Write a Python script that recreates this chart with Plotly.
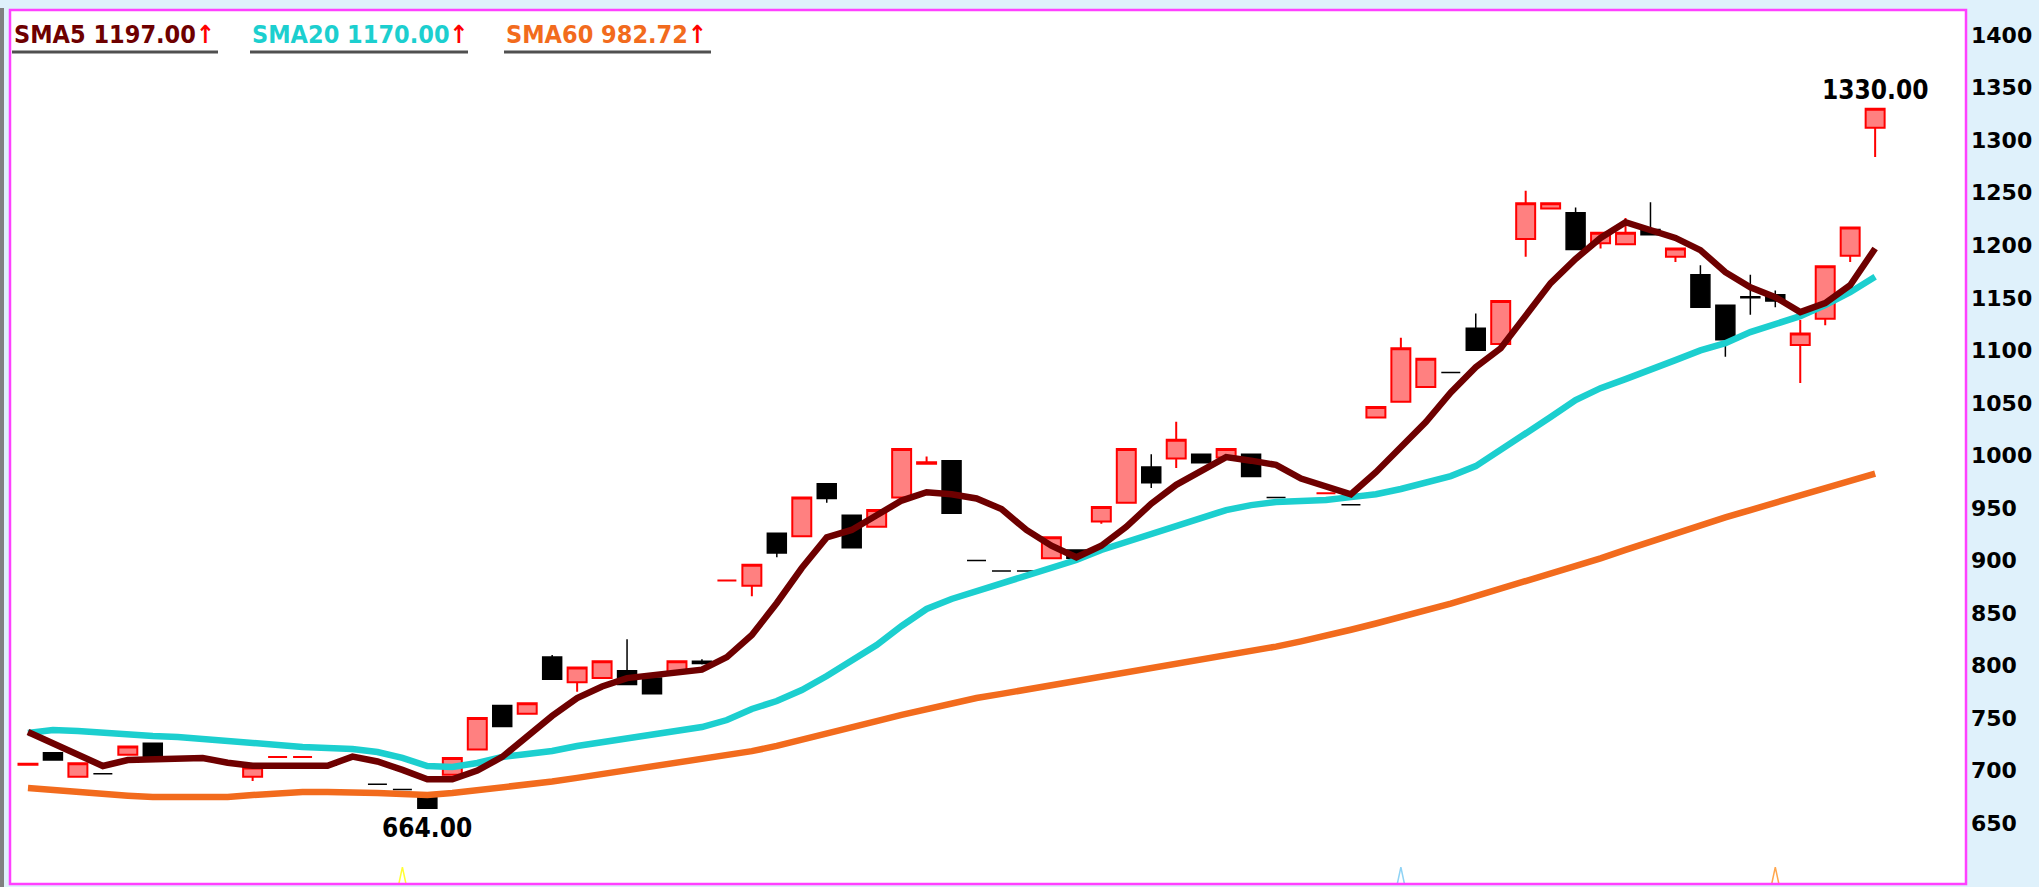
import plotly.graph_objects as go

# ---------------- data ----------------
idx = list(range(75))

opens = [705.5, 717, 694, 697, 715, 726, 712, 711, 708, 694,
         713, 713, 705, 712, 687, 682, 674, 696, 720, 762,
         754, 808, 784, 788, 795, 788, 793, 804, 881, 876,
         926, 923, 973, 943, 932, 960, 992, 995, 900, 890,
         890, 902, 910, 937, 955, 989, 997, 1001, 998, 1001,
         960, 957, 964, 953, 1036, 1051, 1065, 1079, 1121, 1106,
         1206, 1235, 1231, 1202, 1201, 1215, 1189, 1172, 1143, 1151,
         1153, 1105, 1130, 1190, 1312]
highs = [706.5, 717, 707, 697, 723, 726, 712, 711, 708, 703,
         713, 713, 705, 712, 687, 682, 674, 712, 750, 762,
         764, 810, 798, 804, 825, 788, 804, 806, 881, 896,
         926, 960, 973, 943, 948, 1006, 999, 995, 900, 890,
         890, 922, 910, 951, 1006, 1001, 1032, 1001, 1006, 1001,
         960, 957, 964, 953, 1046, 1112, 1092, 1079, 1135, 1147,
         1252, 1240, 1236, 1212, 1226, 1241, 1197, 1181, 1143, 1172,
         1157, 1129, 1180, 1217, 1330]
lows = [705.5, 710, 694, 697, 715, 712, 712, 711, 708, 690,
        713, 713, 705, 712, 687, 682, 664, 696, 720, 742,
        754, 787, 775, 788, 782, 773, 793, 801, 881, 866,
        903, 923, 955, 912, 932, 960, 992, 945, 900, 890,
        890, 902, 902, 935, 955, 969, 988, 993, 998, 980,
        960, 957, 964, 953, 1036, 1051, 1065, 1079, 1100, 1106,
        1189, 1235, 1196, 1197, 1201, 1210, 1184, 1141, 1094, 1134,
        1141, 1069, 1124, 1184, 1284]
closes = [706.5, 710, 707, 697, 723, 712, 712, 711, 708, 703,
          713, 713, 705, 712, 687, 682, 664, 712, 750, 742,
          764, 787, 798, 804, 782, 773, 804, 802, 881, 896,
          907, 960, 959, 912, 948, 1006, 993.5, 945, 900, 890,
          890, 922, 902, 951, 1006, 974, 1015, 993, 1006, 980,
          960, 957, 964, 953, 1046, 1102, 1092, 1079, 1100, 1147,
          1240, 1240, 1196, 1212, 1212, 1210, 1197, 1141, 1110, 1150,
          1147, 1116, 1180, 1217, 1330]

sma5 = [736.7, 726, 714.8, 704.3, 710, 710.7, 712, 712, 707.5, 704.6,
        704.6, 704.6, 704.6, 713.3, 708.6, 700.6, 691.7, 691.7, 700, 713,
        733, 752, 769, 780, 788, 791, 794, 796, 808, 829,
        859.5, 892.8, 922, 929, 943, 957, 965, 963, 959, 949,
        929, 914, 903, 914, 932, 954, 972, 986, 998.4, 995,
        991, 978, 970, 963, 984, 1007, 1031.7, 1060, 1084, 1102,
        1133.5, 1164, 1187, 1207, 1222, 1214.4, 1207, 1195.4, 1174.4, 1160,
        1150.7, 1136.4, 1145, 1162, 1197]
sma20 = [735.7, 738.6, 737.6, 735.7, 734.8, 732.9, 732, 730, 727.2, 725.3,
         724.3, 722.4, 721.5, 720.5, 717.6, 712, 704.3, 703.4, 707.2, 712.9,
         715.8, 718.6, 723.4, 727.2, 731, 733.8, 737.6, 741.4, 748.1, 758.6,
         766.2, 776.7, 790, 804.3, 819.5, 837.6, 853.8, 863.3, 870.9, 877.5,
         885.2, 892.8, 900.4, 910, 917.5, 925.1, 933.7, 941.3, 948, 952.7,
         955.6, 956.5, 957.5, 960.3, 963, 968, 973.7, 980.3, 989.8, 1005,
         1022, 1036.5, 1052.7, 1064, 1072.6, 1081, 1090.7, 1100, 1106.9, 1117.4,
         1125, 1132.6, 1143, 1155.4, 1170]
sma60 = [683.4, 681.5, 678.6, 676.8, 676.1, 674.8, 674.8, 674.8, 674.8, 676.7,
         678.6, 679.6, 679.6, 679.6, 678.6, 677.7, 676.7, 678.6, 681, 683.5,
         686.5, 689.5, 693, 696.5, 700, 703.5, 707, 710.5, 714, 718.5,
         723.5, 729, 735, 741, 747, 753, 758.5, 764, 769, 773,
         777, 781, 785, 789, 793, 797, 801, 805, 809, 813,
         818, 823, 828, 834, 840, 846, 852, 859, 866, 873,
         880, 887, 894, 902, 910, 918, 926, 934, 941, 948,
         955, 962, 969, 976, 982.72]

y_ticks = [650, 700, 750, 800, 850, 900, 950, 1000, 1050, 1100,
           1150, 1200, 1250, 1300, 1350, 1400]
ma_names = ["SMA5", "SMA20", "SMA60"]
signal_idx = [15, 55, 70]

# ---------------- styling ----------------
W, H = 2039, 887
PL, PR, PT, PB = 10, 1966, 10, 884
Y_RANGE = [592, 1424]
X_RANGE = [-0.72, 77.64]

MA_COLORS = {"SMA5": "#6e0000", "SMA20": "#1ccfcf", "SMA60": "#f26b1d"}
SIGNAL_COLORS = ["#ffff33", "#8fd3f5", "#ffa64d"]
BG_BLUE = "#dff1fb"
MAGENTA = "#ff40ff"
COND = "DejaVu Sans Condensed, DejaVu Sans"


def px_x(p):
    return (p - PL) / (PR - PL)


def px_y(p):
    return 1 - (p - PT) / (PB - PT)


fig = go.Figure()

fig.add_trace(go.Candlestick(
    x=idx, open=opens, high=highs, low=lows, close=closes,
    increasing=dict(line=dict(color="#ff0000", width=2), fillcolor="#ff8080"),
    decreasing=dict(line=dict(color="#000000", width=1.5), fillcolor="#000000"),
    whiskerwidth=0, hoverinfo="skip", showlegend=False,
))

for name, series in (("SMA60", sma60), ("SMA20", sma20), ("SMA5", sma5)):
    fig.add_trace(go.Scatter(
        x=idx, y=series, mode="lines",
        line=dict(color=MA_COLORS[name], width=6.5),
        hoverinfo="skip", showlegend=False,
    ))

# small signal triangles at the bottom
for k, col in zip(signal_idx, SIGNAL_COLORS):
    fig.add_trace(go.Scatter(
        x=[k - 0.14, k, k + 0.14], y=[Y_RANGE[0] + 0.5, Y_RANGE[0] + 16, Y_RANGE[0] + 0.5],
        mode="lines", line=dict(color=col, width=1.5),
        hoverinfo="skip", showlegend=False,
    ))

annotations = []
shapes = []

# legend-like labels at top left
ma_last = {"SMA5": sma5[-1], "SMA20": sma20[-1], "SMA60": sma60[-1]}
label_pos = {"SMA5": (12, 218), "SMA20": (250, 468), "SMA60": (504, 711)}
for name in ma_names:
    x0, x1 = label_pos[name]
    annotations.append(dict(
        xref="paper", yref="paper", x=px_x(x0), y=px_y(34),
        xanchor="left", yanchor="middle", showarrow=False,
        text=(f"<span style='color:{MA_COLORS[name]}'>{name} {ma_last[name]:.2f}</span>"
              f"<span style='color:#ff0000'>↑</span>"),
        font=dict(family=COND, size=25, weight="bold"),
    ))
    shapes.append(dict(type="line", xref="paper", yref="paper",
                       x0=px_x(x0), x1=px_x(x1), y0=px_y(52), y1=px_y(52),
                       line=dict(color="#505050", width=3)))

# extreme value labels
lo_i = lows.index(min(lows))
hi_i = highs.index(max(highs))
annotations.append(dict(
    x=lo_i, y=lows[lo_i], xref="x", yref="y", text=f"{lows[lo_i]:.2f}",
    showarrow=False, yshift=-20, xanchor="center", yanchor="middle",
    font=dict(family=COND, size=26, color="#000000", weight="bold"),
))
annotations.append(dict(
    x=hi_i, y=highs[hi_i], xref="x", yref="y", text=f"{highs[hi_i]:.2f}",
    showarrow=False, yshift=19, xanchor="center", yanchor="middle",
    font=dict(family=COND, size=26, color="#000000", weight="bold"),
))

# plot frame and left grey edge
shapes.append(dict(type="rect", xref="paper", yref="paper", x0=0, x1=1, y0=0, y1=1,
                   line=dict(color=MAGENTA, width=2.5), fillcolor="rgba(0,0,0,0)", layer="above"))
shapes.append(dict(type="rect", xref="paper", yref="paper",
                   x0=px_x(0), x1=px_x(4), y0=px_y(887), y1=px_y(8),
                   line=dict(width=0), fillcolor="#808080", layer="above"))

fig.update_layout(
    width=W, height=H,
    margin=dict(l=PL, r=W - PR, t=PT, b=H - PB, pad=0),
    paper_bgcolor=BG_BLUE, plot_bgcolor="#ffffff",
    boxgap=0.24, boxgroupgap=0,
    showlegend=False,
    annotations=annotations, shapes=shapes,
    xaxis=dict(range=X_RANGE, showgrid=False, zeroline=False, showticklabels=False,
               ticks="", showline=False, rangeslider=dict(visible=False), fixedrange=True),
    yaxis=dict(range=Y_RANGE, side="right", tickvals=y_ticks,
               ticktext=[str(v) for v in y_ticks],
               showgrid=False, zeroline=False, ticks="", showline=False,
               ticklabelstandoff=4,
               tickfont=dict(family="DejaVu Sans", size=22, color="#000000", weight="bold"),
               fixedrange=True),
)

fig.write_html(
    "out.html",
    config={"displayModeBar": False},
    post_script="document.body.style.margin='0';document.body.style.overflow='hidden';",
)
